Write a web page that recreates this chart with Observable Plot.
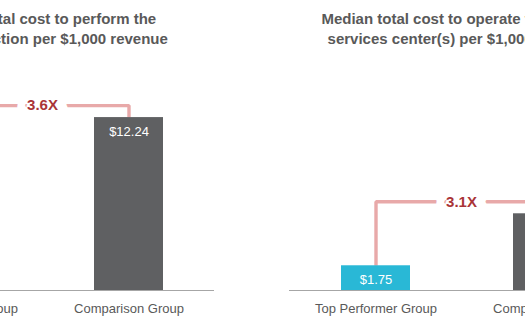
<!DOCTYPE html>
<html><head><meta charset="utf-8">
<script src="https://cdn.jsdelivr.net/npm/d3@7"></script>
<script src="https://cdn.jsdelivr.net/npm/@observablehq/plot@0.6"></script>
<style>
body{margin:0;background:#fff;overflow:hidden;width:525px;height:324px;position:relative}
#wrap{position:absolute;left:-130px;top:0;display:flex;gap:75px}
.panel{width:344px;flex:none}
.title{font:bold 15px/20px "Liberation Sans",Arial,sans-serif;color:#595959;text-align:center;padding-top:9px;height:39px;white-space:nowrap}
svg{display:block}
</style></head><body><div id="wrap"></div>
<script>
const groups = ["Top Performer Group", "Comparison Group"];
const titleLine1 = ["Median total cost to perform the", "Median total cost to operate the shared"];
const titleLine2 = ["payroll function per $1,000 revenue", "services center(s) per $1,000 revenue"];
const topPerformerValues = [3.40, 1.75];
const comparisonValues = [12.24, 5.43];
const ratioLabels = ["3.6X", "3.1X"];
const barColors = ["#29b8d6", "#5f6062"];

const W = 344, H = 276, MB = 34, yMax = 17.13;
const pxPerUnit = (H - MB) / yMax;

const wrap = document.getElementById("wrap");
for (let i = 0; i < 2; i++) {
  const data = [
    {g: groups[0], v: topPerformerValues[i]},
    {g: groups[1], v: comparisonValues[i]}
  ];
  const hi = Math.max(topPerformerValues[i], comparisonValues[i]);
  const yc = hi + 12 / pxPerUnit;
  const connector = [
    {g: groups[0], v: topPerformerValues[i]},
    {g: groups[0], v: yc},
    {g: groups[1], v: yc},
    {g: groups[1], v: comparisonValues[i]}
  ];
  const panel = document.createElement("div");
  panel.className = "panel";
  const t = document.createElement("div");
  t.className = "title";
  t.innerHTML = titleLine1[i] + "<br>" + titleLine2[i];
  panel.appendChild(t);
  const chart = Plot.plot({
    width: W, height: H,
    marginLeft: 0, marginRight: 0, marginTop: 0, marginBottom: MB,
    style: {fontFamily: "'Liberation Sans', Arial, sans-serif", background: "transparent"},
    x: {domain: groups, paddingInner: 0.6, paddingOuter: 0.3, label: null},
    y: {domain: [0, yMax], axis: null},
    marks: [
      Plot.line(connector, {x: "g", y: "v", stroke: "#e8a9a9", strokeWidth: 3.4, strokeLinejoin: "miter", strokeLinecap: "butt"}),
      Plot.barY(data, {x: "g", y: "v", fill: (d, j) => barColors[groups.indexOf(d.g)]}),
      Plot.text(data, {x: "g", y: "v", dy: 14, text: d => "$" + d.v.toFixed(2), fill: "white", fontSize: 13, lineAnchor: "middle"}),
      Plot.text([ratioLabels[i]], {y: yc, frameAnchor: "middle", text: d => d, fill: "#a93437", fontSize: 15, fontWeight: "bold",
        stroke: "white", strokeWidth: 20, paintOrder: "stroke", strokeLinejoin: "round", lineAnchor: "middle"}),
      Plot.ruleY([0], {stroke: "#a6a6a6", strokeWidth: 1}),
      Plot.axisX({tickSize: 0, tickPadding: 13, fontSize: 13, color: "#595959", label: null})
    ]
  });
  panel.appendChild(chart);
  wrap.appendChild(panel);
}
</script></body></html>
